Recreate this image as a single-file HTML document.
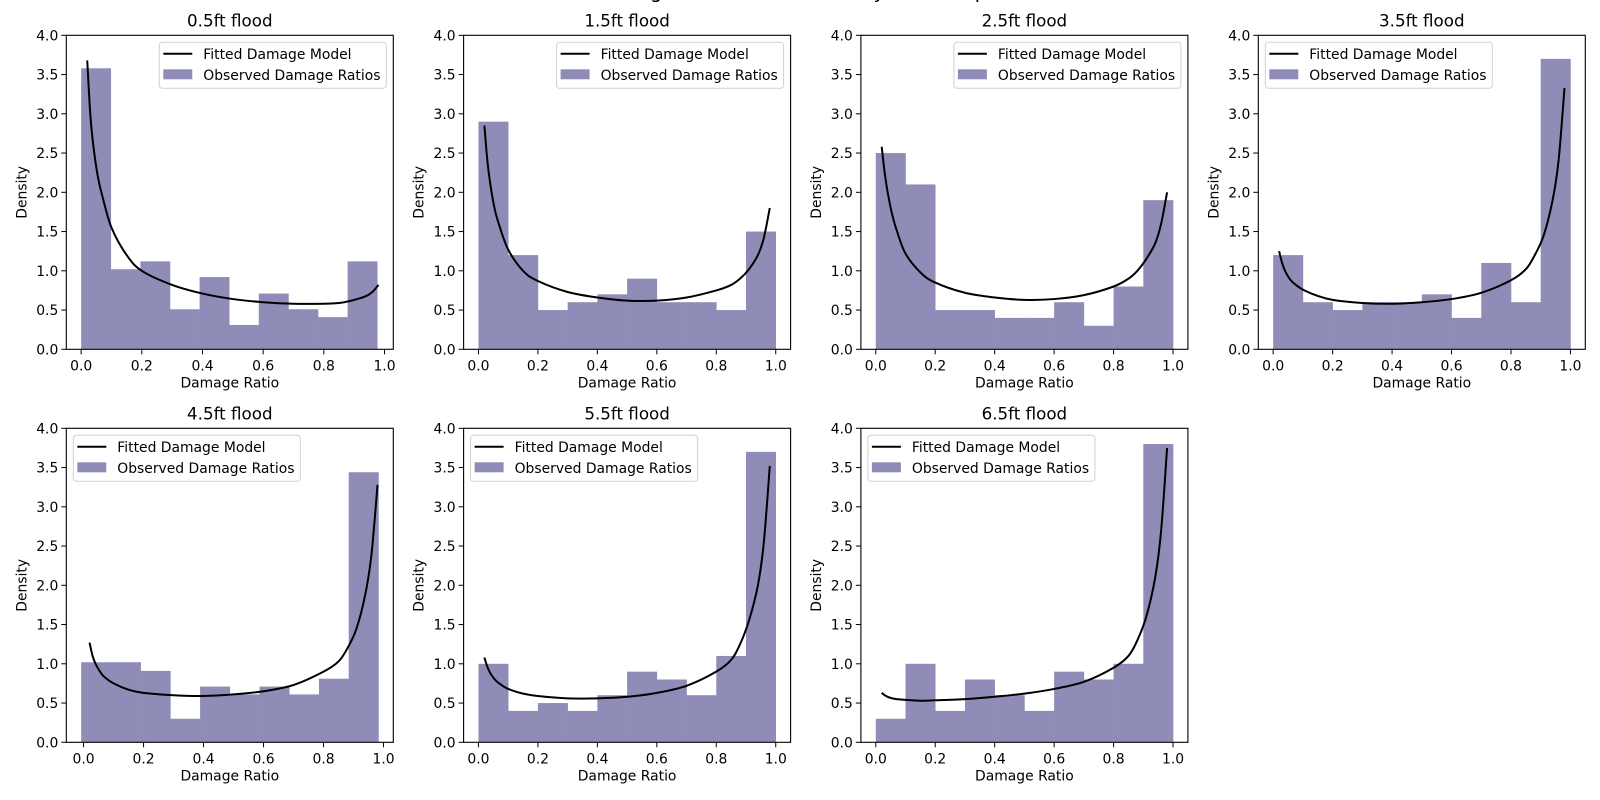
<!DOCTYPE html>
<html><head><meta charset="utf-8"><style>
html,body{margin:0;padding:0;background:#fff;}
svg{display:block;font-family:"DejaVu Sans","Liberation Sans",sans-serif;}
</style></head><body>
<svg id="fig" width="1600" height="800" viewBox="0 0 1600 800">
<text x="800" y="-2" text-anchor="middle" font-size="19">Damage Ratio Distributions by Flood Depth</text>
</svg>
<script>
const titles = ["0.5ft flood","1.5ft flood","2.5ft flood","3.5ft flood","4.5ft flood","5.5ft flood","6.5ft flood"];
const binStart = [0,0,0,0,-0.008,0,0];
const binEnd = [0.976,1,1,1,0.983,1,1];
const hist1 = [3.58,1.02,1.12,0.51,0.92,0.31,0.71,0.51,0.41,1.12];
const hist2 = [2.9,1.2,0.5,0.6,0.7,0.9,0.6,0.6,0.5,1.5];
const hist3 = [2.5,2.1,0.5,0.5,0.4,0.4,0.6,0.3,0.8,1.9];
const hist4 = [1.2,0.6,0.5,0.6,0.6,0.7,0.4,1.1,0.6,3.7];
const hist5 = [1.02,1.02,0.91,0.3,0.71,0.61,0.71,0.61,0.81,3.44];
const hist6 = [1.0,0.4,0.5,0.4,0.6,0.9,0.8,0.6,1.1,3.7];
const hist7 = [0.3,1.0,0.4,0.8,0.6,0.4,0.9,0.8,1.0,3.8];
const curveX = [0.02,0.03,0.04,0.055,0.07,0.1,0.15,0.2,0.3,0.4,0.5,0.6,0.7,0.8,0.85,0.88,0.91,0.94,0.96,0.98];
const curve1 = [3.68,3.0,2.6,2.2,1.95,1.55,1.2,1.0,0.82,0.71,0.64,0.6,0.58,0.58,0.59,0.61,0.64,0.68,0.73,0.82];
const curve2 = [2.85,2.4,2.1,1.78,1.58,1.27,1.0,0.87,0.73,0.66,0.62,0.62,0.66,0.75,0.82,0.9,1.02,1.2,1.42,1.8];
const curve3 = [2.58,2.25,2.0,1.72,1.52,1.22,0.98,0.85,0.72,0.66,0.63,0.64,0.69,0.8,0.9,1.0,1.15,1.35,1.6,2.0];
const curve4 = [1.25,1.1,1.0,0.9,0.84,0.76,0.68,0.63,0.59,0.58,0.6,0.64,0.72,0.88,1.02,1.2,1.45,1.9,2.4,3.33];
const curve5 = [1.27,1.1,1.0,0.9,0.83,0.75,0.67,0.63,0.6,0.59,0.61,0.65,0.73,0.9,1.03,1.2,1.45,1.9,2.4,3.28];
const curve6 = [1.08,0.96,0.88,0.8,0.75,0.68,0.62,0.59,0.56,0.56,0.58,0.63,0.72,0.9,1.05,1.25,1.55,2.0,2.55,3.52];
const curve7 = [0.63,0.6,0.58,0.56,0.55,0.54,0.53,0.535,0.55,0.58,0.62,0.68,0.77,0.95,1.1,1.3,1.6,2.1,2.7,3.75];
const xTicks = [0,0.2,0.4,0.6,0.8,1.0];
const yTicks = [0,0.5,1.0,1.5,2.0,2.5,3.0,3.5,4.0];
const legendRight = [true,true,true,false,false,false,false];

const hists=[hist1,hist2,hist3,hist4,hist5,hist6,hist7];
const curves=[curve1,curve2,curve3,curve4,curve5,curve6,curve7];
const NS="http://www.w3.org/2000/svg";
const fig=document.getElementById('fig');
function mk(tag,attrs,parent,text){const e=document.createElementNS(NS,tag);for(const k in attrs)e.setAttribute(k,attrs[k]);if(text!==undefined)e.textContent=text;(parent||fig).appendChild(e);return e;}
const lefts=[66.3,463.6,860.9,1258.3], tops=[35.3,428.3], W=327, H=314;
for(let p=0;p<7;p++){
  const L=lefts[p%4], T=tops[Math.floor(p/4)];
  const g=mk('g',{});
  
  
  const dmin=Math.min(binStart[p],curveX[0]), dmax=Math.max(binEnd[p],curveX[curveX.length-1]);
  const m=0.05*(dmax-dmin), x0l=dmin-m, x1l=dmax+m;
  const xs=v=>L+(v-x0l)/(x1l-x0l)*W, ys=v=>T+H-v/4*H;
  const h=hists[p], n=h.length, bw=(binEnd[p]-binStart[p])/n;
  for(let i=0;i<n;i++){
    const a=xs(binStart[p]+i*bw), b=xs(binStart[p]+(i+1)*bw);
    const r=mk('rect',{x:a,y:ys(h[i]),width:b-a+0.3,height:ys(0)-ys(h[i]),fill:'#8f8db7'},g);
    
    
  }
  const c=curves[p];
  const pts=curveX.map((x,i)=>[xs(x),ys(c[i])]);
  let d='M'+pts[0][0]+','+pts[0][1];
  for(let i=0;i<pts.length-1;i++){
    const p0=pts[Math.max(0,i-1)],p1=pts[i],p2=pts[i+1],p3=pts[Math.min(pts.length-1,i+2)];
    d+=' C'+(p1[0]+(p2[0]-p0[0])/6)+','+(p1[1]+(p2[1]-p0[1])/6)+' '+(p2[0]-(p3[0]-p1[0])/6)+','+(p2[1]-(p3[1]-p1[1])/6)+' '+p2[0]+','+p2[1];
  }
  const pl=mk('path',{d:d,fill:'none',stroke:'#000','stroke-width':2},g);
  
  
  const fr=mk('rect',{x:L,y:T,width:W,height:H,fill:'none',stroke:'#000','stroke-width':1.1},g);
  
  
  xTicks.forEach(v=>{
    mk('line',{x1:xs(v),x2:xs(v),y1:T+H,y2:T+H+5,stroke:'#000'},g);
    const t=mk('text',{x:xs(v),y:T+H+21,'text-anchor':'middle','font-size':13.9},g,v.toFixed(1));
    
    
  });
  yTicks.forEach(v=>{
    mk('line',{x1:L-5,x2:L,y1:ys(v),y2:ys(v),stroke:'#000'},g);
    const t=mk('text',{x:L-8,y:ys(v)+5,'text-anchor':'end','font-size':13.9},g,v.toFixed(1));
    
    
  });
  const xl=mk('text',{x:L+W/2,y:T+H+38,'text-anchor':'middle','font-size':13.9},g,'Damage Ratio');
  
  
  const yl=mk('text',{x:0,y:0,'text-anchor':'middle','font-size':13.9,transform:'translate('+(L-40)+','+(T+H/2)+') rotate(-90)'},g,'Density');
  
  
  const tt=mk('text',{x:L+W/2,y:T-9,'text-anchor':'middle','font-size':16.7},g,titles[p]);
  
  
  const lw=227, lh=46, lx=legendRight[p]?L+W-lw-7:L+7, ly=T+7;
  const lg=mk('g',{},g);
  
  
  mk('rect',{x:lx,y:ly,width:lw,height:lh,rx:3,fill:'#fff','fill-opacity':0.8,stroke:'#d0d0d0'},lg);
  mk('line',{x1:lx+4,x2:lx+33,y1:ly+11.5,y2:ly+11.5,stroke:'#000','stroke-width':2},lg);
  mk('text',{x:lx+44,y:ly+16.5,'font-size':13.9},lg,'Fitted Damage Model');
  mk('rect',{x:lx+4,y:ly+27,width:29,height:10,fill:'#8f8db7'},lg);
  mk('text',{x:lx+44,y:ly+37.5,'font-size':13.9},lg,'Observed Damage Ratios');
}
</script>
</body></html>
